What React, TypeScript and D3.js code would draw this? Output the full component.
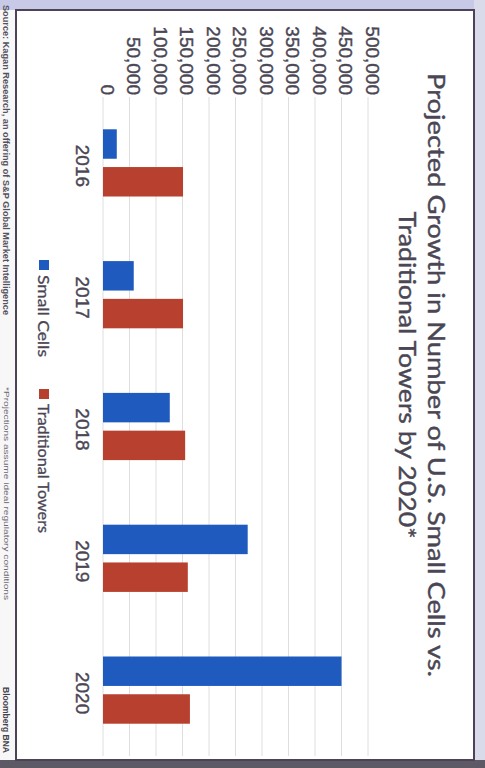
import React from "react";
import * as d3 from "d3";

const years = ["2016", "2017", "2018", "2019", "2020"];
const seriesNames = ["Small Cells", "Traditional Towers"];
const smallCells = [26000, 58000, 126000, 273000, 450000];
const towers = [151000, 151000, 155000, 160000, 164000];
const tickValues = [0, 50000, 100000, 150000, 200000, 250000, 300000, 350000, 400000, 450000, 500000];
const titleLines = ["Projected Growth in Number of U.S. Small Cells vs.", "Traditional Towers by 2020*"];
const colors = ["#1f5bbf", "#b8402e"];

const SW = 485;
const SH = 768;

export default function App() {
  const x0 = d3.scaleBand<string>().domain(years).range([97, 756]).paddingInner(0.49).paddingOuter(0.245);
  const x1 = d3.scaleBand<string>().domain(seriesNames).range([0, x0.bandwidth()]).paddingInner(0.22);
  const y = d3.scaleLinear().domain([0, 500000]).range([382, 117]);
  const fmt = d3.format(",");
  const data = years.map((yr, i) => ({ yr, vals: [smallCells[i], towers[i]] }));
  const txt = "#4a4654";

  return (
    <svg width={SW} height={SH} style={{ position: "absolute", left: 0, top: 0, display: "block" }}>
      {/* photo surroundings */}
      <rect x={0} y={0} width={SW} height={SH} fill="#f4f4f6" />
      <rect x={0} y={0} width={SW} height={10} fill="#c7c9e6" />
      <rect x={474} y={0} width={11} height={SH} fill="#d9dbea" />
      <rect x={0} y={760} width={SW} height={8} fill="#5d5a66" />
      <rect x={0} y={10} width={16} height={750} fill="#f7f7f7" />
      <g transform={`translate(${SW},0) rotate(90)`}>
        {/* frame */}
        <rect x={10} y={11} width={750} height={458} fill="#ffffff" stroke="#4d4358" strokeWidth={2} />
        {/* title */}
        {titleLines.map((t, i) => (
          <text key={t} x={375} y={48 + i * 29} textAnchor="middle" dominantBaseline="central"
            fontFamily="Lato, 'Open Sans', sans-serif" fontSize={24} fill={txt} stroke={txt} strokeWidth={0.4}
            textLength={i === 0 ? 604 : 327} lengthAdjust="spacingAndGlyphs">{t}</text>
        ))}
        {/* gridlines and ticks */}
        {tickValues.map((t) => (
          <g key={t}>
            <line x1={97} x2={756} y1={y(t)} y2={y(t)} stroke="#dedede" strokeWidth={1} />
            <text x={95} y={y(t) - 4} textAnchor="end" dominantBaseline="central"
              fontFamily="'Liberation Sans', Arial, sans-serif" fontSize={19} fill={txt} stroke={txt} strokeWidth={0.4}>{fmt(t)}</text>
          </g>
        ))}
        {/* bars */}
        {data.map((d) => (
          <g key={d.yr} transform={`translate(${x0(d.yr)},0)`}>
            {d.vals.map((v, j) => (
              <rect key={j} x={x1(seriesNames[j])} y={y(v)} width={x1.bandwidth()} height={y(0) - y(v)} fill={colors[j]} />
            ))}
            <text x={x0.bandwidth() / 2 + 3} y={403} textAnchor="middle" dominantBaseline="central"
              fontFamily="'Liberation Sans', Arial, sans-serif" fontSize={19} fill={txt} stroke={txt} strokeWidth={0.4}>{d.yr}</text>
          </g>
        ))}
        {/* legend */}
        <rect x={260} y={436} width={10} height={10} fill={colors[0]} />
        <text x={275} y={441} dominantBaseline="central" fontFamily="Lato, sans-serif" fontSize={16} fill={txt}
          stroke={txt} strokeWidth={0.3} textLength={82} lengthAdjust="spacingAndGlyphs">{seriesNames[0]}</text>
        <rect x={389} y={436} width={10} height={10} fill={colors[1]} />
        <text x={404} y={441} dominantBaseline="central" fontFamily="Lato, sans-serif" fontSize={16} fill={txt}
          stroke={txt} strokeWidth={0.3} textLength={129} lengthAdjust="spacingAndGlyphs">{seriesNames[1]}</text>
        {/* footnotes */}
        <text x={5} y={479} dominantBaseline="central" fontFamily="'Liberation Sans', Arial, sans-serif" fontSize={8.5}
          fontWeight="bold" fill="#55525e" textLength={310} lengthAdjust="spacingAndGlyphs">
          Source: Kagan Research, an offering of S&amp;P Global Market Intelligence
        </text>
        <text x={387} y={479} dominantBaseline="central" fontFamily="'Liberation Sans', Arial, sans-serif" fontSize={8}
          fill="#6a6772" textLength={213} lengthAdjust="spacingAndGlyphs">
          *Projections assume ideal regulatory conditions
        </text>
        <text x={687} y={479} dominantBaseline="central" fontFamily="'Liberation Sans', Arial, sans-serif" fontSize={8.5}
          fontWeight="bold" fill="#45424e" textLength={66} lengthAdjust="spacingAndGlyphs">
          Bloomberg BNA
        </text>
      </g>
    </svg>
  );
}
